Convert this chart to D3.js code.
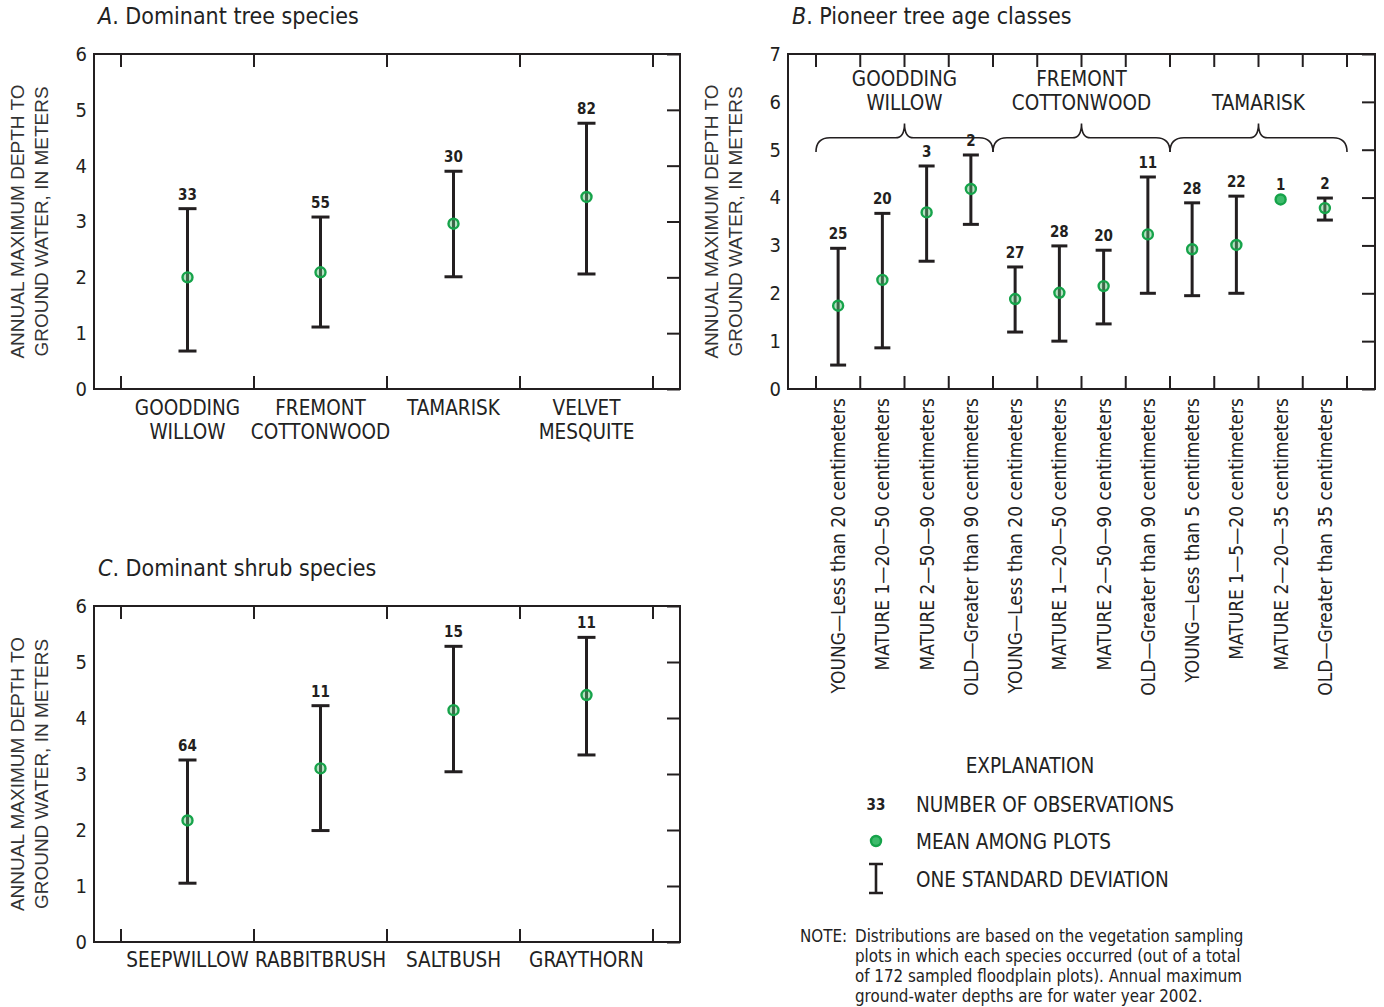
<!DOCTYPE html>
<html>
<head>
<meta charset="utf-8">
<script src="https://cdn.jsdelivr.net/npm/d3@7"></script>
<style>
  body { margin: 0; background: #fff; }
  svg { display: block; }
</style>
</head>
<body>
<svg width="1384" height="1007"></svg>
<script>
// ---- data ----
var treeSpecies = ["GOODDING|WILLOW", "FREMONT|COTTONWOOD", "TAMARISK", "VELVET|MESQUITE"];
var treeMean = [2.0, 2.09, 2.96, 3.44];
var treeLow  = [0.68, 1.11, 2.01, 2.06];
var treeHigh = [3.23, 3.08, 3.9, 4.76];
var treeN    = [33, 55, 30, 82];

var shrubSpecies = ["SEEPWILLOW", "RABBITBRUSH", "SALTBUSH", "GRAYTHORN"];
var shrubMean = [2.17, 3.1, 4.14, 4.41];
var shrubLow  = [1.05, 1.99, 3.04, 3.34];
var shrubHigh = [3.25, 4.22, 5.28, 5.44];
var shrubN    = [64, 11, 15, 11];

var ageClasses = [
  "YOUNG\u2014Less than 20 centimeters", "MATURE 1\u201420\u201450 centimeters",
  "MATURE 2\u201450\u201490 centimeters", "OLD\u2014Greater than 90 centimeters",
  "YOUNG\u2014Less than 20 centimeters", "MATURE 1\u201420\u201450 centimeters",
  "MATURE 2\u201450\u201490 centimeters", "OLD\u2014Greater than 90 centimeters",
  "YOUNG\u2014Less than 5 centimeters", "MATURE 1\u20145\u201420 centimeters",
  "MATURE 2\u201420\u201435 centimeters", "OLD\u2014Greater than 35 centimeters"
];
var ageMean = [1.74, 2.28, 3.69, 4.18, 1.88, 2.01, 2.15, 3.23, 2.92, 3.01, 3.96, 3.78];
var ageLow  = [0.5, 0.86, 2.67, 3.44, 1.19, 1.0, 1.36, 2.0, 1.95, 2.0, null, 3.53];
var ageHigh = [2.94, 3.67, 4.66, 4.89, 2.55, 2.99, 2.9, 4.43, 3.89, 4.03, null, 3.99];
var ageN    = [25, 20, 3, 2, 27, 28, 20, 11, 28, 22, 1, 2];
var ageGroups = ["GOODDING|WILLOW", "FREMONT|COTTONWOOD", "TAMARISK"];

var svg = d3.select("svg");
var ink = "#231f20";
var cond = "'Liberation Sans Narrow', 'DejaVu Sans Condensed', 'Arial Narrow', sans-serif";
var plain = "'Liberation Sans', Arial, sans-serif";
var dotFill = "rgba(90,190,120,0.45)", dotStroke = "#16a34a";

function panel(opt) {
  var g = svg.append("g");
  var y = d3.scaleLinear().domain([0, opt.ymax]).range([opt.bottom, opt.top]);
  var x = d3.scaleBand().domain(d3.range(opt.cats.length)).range([opt.left + opt.pad, opt.right - opt.pad]);
  var bw = x.bandwidth();

  // frame
  g.append("rect").attr("x", opt.left).attr("y", opt.top)
    .attr("width", opt.right - opt.left).attr("height", opt.bottom - opt.top)
    .attr("fill", "none").attr("stroke", ink).attr("stroke-width", 2);

  // left tick labels
  g.append("g").attr("transform", "translate(" + opt.left + ",0)")
    .call(d3.axisLeft(y).ticks(opt.ymax).tickSize(0).tickPadding(7))
    .call(function(a) {
      a.select(".domain").remove();
      a.selectAll("text").attr("font-family", cond).attr("font-size", 20).attr("fill", ink);
    });
  // right inward ticks
  g.append("g").attr("transform", "translate(" + opt.right + ",0)")
    .call(d3.axisLeft(y).ticks(opt.ymax).tickSize(13).tickFormat(""))
    .call(function(a) {
      a.select(".domain").remove();
      a.selectAll("line").attr("stroke", ink).attr("stroke-width", 2);
    });

  // category boundary ticks, top and bottom
  var bounds = opt.cats.map(function(d, i) { return x(i); }).concat([x(opt.cats.length - 1) + bw]);
  g.append("g").selectAll("line.b").data(bounds).enter().append("line")
    .attr("x1", function(d) { return d; }).attr("x2", function(d) { return d; })
    .attr("y1", opt.bottom).attr("y2", opt.bottom - 13)
    .attr("stroke", ink).attr("stroke-width", 2);
  g.append("g").selectAll("line.t").data(bounds).enter().append("line")
    .attr("x1", function(d) { return d; }).attr("x2", function(d) { return d; })
    .attr("y1", opt.top).attr("y2", opt.top + 13)
    .attr("stroke", ink).attr("stroke-width", 2);

  // y title
  var yt = g.append("text").attr("font-family", plain).attr("font-size", 19).attr("fill", "#333")
    .attr("text-anchor", "middle")
    .attr("transform", "translate(" + (opt.left - 70) + "," + ((opt.top + opt.bottom) / 2) + ") rotate(-90)");
  yt.append("tspan").attr("x", 0).attr("dy", 0).text("ANNUAL MAXIMUM DEPTH TO");
  yt.append("tspan").attr("x", 0).attr("dy", 24).text("GROUND WATER, IN METERS");

  // panel title
  var ti = g.append("text").attr("x", opt.left + 4).attr("y", opt.top - 30)
    .attr("font-family", cond).attr("font-size", 23).attr("fill", "#222");
  ti.append("tspan").attr("font-style", "italic").text(opt.letter);
  ti.append("tspan").text(". " + opt.title);

  // error bars
  var cx = function(i) { return x(i) + bw / 2; };
  var rows = opt.cats.map(function(c, i) {
    return { i: i, mean: opt.mean[i], lo: opt.low[i], hi: opt.high[i], n: opt.n[i] };
  });
  var bars = rows.filter(function(d) { return d.lo != null; });
  g.selectAll("line.sd").data(bars).enter().append("line")
    .attr("x1", function(d) { return cx(d.i); }).attr("x2", function(d) { return cx(d.i); })
    .attr("y1", function(d) { return y(d.lo); }).attr("y2", function(d) { return y(d.hi); })
    .attr("stroke", ink).attr("stroke-width", 3);
  ["lo", "hi"].forEach(function(k) {
    g.selectAll("line.cap" + k).data(bars).enter().append("line")
      .attr("x1", function(d) { return cx(d.i) - opt.cap; }).attr("x2", function(d) { return cx(d.i) + opt.cap; })
      .attr("y1", function(d) { return y(d[k]); }).attr("y2", function(d) { return y(d[k]); })
      .attr("stroke", ink).attr("stroke-width", 3);
  });
  g.selectAll("circle.m").data(rows).enter().append("circle")
    .attr("cx", function(d) { return cx(d.i); }).attr("cy", function(d) { return y(d.mean); })
    .attr("r", 5)
    .attr("fill", function(d) { return d.lo == null ? "#3dbb6b" : dotFill; })
    .attr("stroke", dotStroke).attr("stroke-width", 2.4);
  g.selectAll("text.n").data(rows).enter().append("text")
    .attr("x", function(d) { return cx(d.i); })
    .attr("y", function(d) { return y(d.hi != null ? d.hi : d.mean) - 9; })
    .attr("text-anchor", "middle").attr("font-family", cond).attr("font-weight", "bold")
    .attr("font-size", 15).attr("fill", ink)
    .text(function(d) { return d.n; });

  return { g: g, x: x, y: y, cx: cx, bw: bw };
}

function catLabels(p, cats, yy) {
  cats.forEach(function(c, i) {
    var t = p.g.append("text").attr("text-anchor", "middle").attr("font-family", cond)
      .attr("font-size", 20.5).attr("fill", "#222");
    c.split("|").forEach(function(s, k) {
      t.append("tspan").attr("x", p.cx(i)).attr("y", yy + k * 24).text(s);
    });
  });
}

// ---- panel A ----
var pA = panel({ left: 94, right: 680, top: 54, bottom: 389, pad: 27, ymax: 6, cap: 9,
  cats: treeSpecies, mean: treeMean, low: treeLow, high: treeHigh, n: treeN,
  letter: "A", title: "Dominant tree species" });
catLabels(pA, treeSpecies, 415);

// ---- panel C ----
var pC = panel({ left: 94, right: 680, top: 606, bottom: 942, pad: 27, ymax: 6, cap: 9,
  cats: shrubSpecies, mean: shrubMean, low: shrubLow, high: shrubHigh, n: shrubN,
  letter: "C", title: "Dominant shrub species" });
catLabels(pC, shrubSpecies, 967);

// ---- panel B ----
var pB = panel({ left: 788, right: 1375, top: 54, bottom: 389, pad: 28, ymax: 7, cap: 8,
  cats: ageClasses, mean: ageMean, low: ageLow, high: ageHigh, n: ageN,
  letter: "B", title: "Pioneer tree age classes" });

pB.g.selectAll("text.age").data(ageClasses).enter().append("text")
  .attr("transform", function(d, i) { return "translate(" + (pB.cx(i) + 7) + ",398) rotate(-90)"; })
  .attr("text-anchor", "end").attr("font-family", cond).attr("font-size", 19).attr("fill", "#222")
  .text(function(d) { return d; });

// group braces and names
ageGroups.forEach(function(name, gi) {
  var x0 = pB.x(gi * 4), x1 = pB.x(gi * 4 + 3) + pB.bw, m = (x0 + x1) / 2;
  var yEnd = pB.y(4.95), yh = pB.y(5.25), yp = pB.y(5.55);
  var path = "M" + x0 + "," + yEnd + " Q" + x0 + "," + yh + " " + (x0 + 14) + "," + yh +
    " L" + (m - 9) + "," + yh + " Q" + m + "," + yh + " " + m + "," + yp +
    " Q" + m + "," + yh + " " + (m + 9) + "," + yh +
    " L" + (x1 - 14) + "," + yh + " Q" + x1 + "," + yh + " " + x1 + "," + yEnd;
  pB.g.append("path").attr("d", path).attr("fill", "none").attr("stroke", ink).attr("stroke-width", 1.6);
  var parts = name.split("|");
  var t = pB.g.append("text").attr("text-anchor", "middle").attr("font-family", cond)
    .attr("font-size", 20.5).attr("fill", "#222");
  parts.forEach(function(s, k) {
    t.append("tspan").attr("x", m).attr("y", (parts.length === 1 ? 110 : 86) + k * 24).text(s);
  });
});

// ---- explanation ----
var lg = svg.append("g").attr("font-family", cond).attr("fill", "#222");
lg.append("text").attr("x", 1030).attr("y", 773).attr("text-anchor", "middle").attr("font-size", 20.5).text("EXPLANATION");
lg.append("text").attr("x", 876).attr("y", 810).attr("text-anchor", "middle").attr("font-size", 15)
  .attr("font-weight", "bold").text("33");
lg.append("text").attr("x", 916).attr("y", 812).attr("font-size", 20.5).text("NUMBER OF OBSERVATIONS");
lg.append("circle").attr("cx", 876).attr("cy", 841).attr("r", 5)
  .attr("fill", "#3dbb6b").attr("stroke", dotStroke).attr("stroke-width", 2.4);
lg.append("text").attr("x", 916).attr("y", 849).attr("font-size", 20.5).text("MEAN AMONG PLOTS");
lg.append("path").attr("d", "M869,864 H883 M876,864 V893 M869,893 H883")
  .attr("stroke", ink).attr("stroke-width", 2.6).attr("fill", "none");
lg.append("text").attr("x", 916).attr("y", 887).attr("font-size", 20.5).text("ONE STANDARD DEVIATION");

var noteLines = [
  "Distributions are based on the vegetation sampling",
  "plots in which each species occurred (out of a total",
  "of 172 sampled floodplain plots). Annual maximum",
  "ground-water depths are for water year 2002."
];
var nt = svg.append("g").attr("font-family", cond).attr("font-size", 16.8).attr("fill", "#222");
nt.append("text").attr("x", 800).attr("y", 942).text("NOTE:");
nt.selectAll("text.l").data(noteLines).enter().append("text")
  .attr("x", 855).attr("y", function(d, i) { return 942 + i * 20; })
  .text(function(d) { return d; });
</script>
</body>
</html>
